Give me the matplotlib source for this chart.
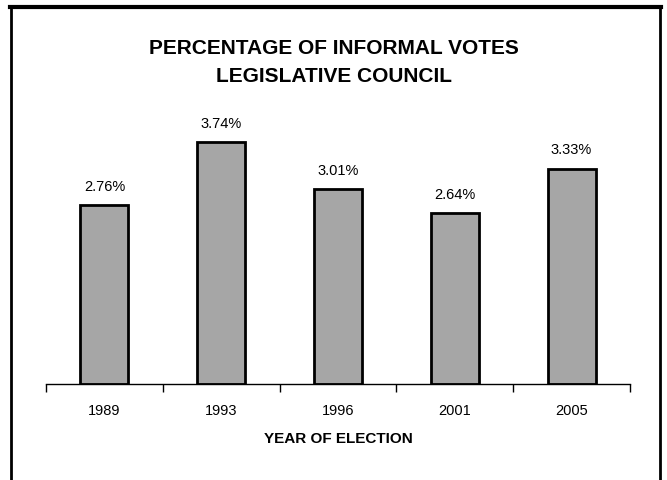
import matplotlib.pyplot as plt
from matplotlib.lines import Line2D

years = ["1989", "1993", "1996", "2001", "2005"]
informal_pct = [2.76, 3.74, 3.01, 2.64, 3.33]
title_lines = ["PERCENTAGE OF INFORMAL VOTES", "LEGISLATIVE COUNCIL"]

plt.rcParams["font.family"] = ["Liberation Sans", "DejaVu Sans"]

fig = plt.figure(figsize=(6.67, 4.81), dpi=100)
ax = fig.add_axes([0.069, 0.1996, 0.8755, 0.538])

xs = list(range(len(years)))
ax.bar(xs, informal_pct, width=0.41, color="#a6a6a6", edgecolor="black", linewidth=2)

for x, v in zip(xs, informal_pct):
    ax.annotate(f"{v:.2f}%", (x, v), xytext=(0, 9), textcoords="offset points",
                ha="center", va="bottom", fontsize=10.5, clip_on=False)

ax.set_xlim(-0.5, len(years) - 0.5)
ax.set_ylim(0, 4)

# ticks sit between categories, labels in the middle
ax.set_xticks([i - 0.5 for i in range(len(years) + 1)])
ax.set_xticklabels([])
ax.set_xticks(xs, minor=True)
ax.set_xticklabels(years, minor=True, fontsize=10.5)
ax.tick_params(axis="x", which="major", length=6, width=1, direction="out")
ax.tick_params(axis="x", which="minor", length=0, pad=14)
ax.set_yticks([])

for side in ["top", "right", "left"]:
    ax.spines[side].set_visible(False)
ax.spines["bottom"].set_linewidth(1)

ax.set_xlabel("YEAR OF ELECTION", fontsize=11, fontweight="bold", labelpad=10)

fig.text(0.5, 0.900, title_lines[0], ha="center", va="center",
         fontsize=15, fontweight="bold")
fig.text(0.5, 0.840, title_lines[1], ha="center", va="center",
         fontsize=15, fontweight="bold")

# outer frame, open at the bottom
fig.add_artist(Line2D([0.0157, 0.9905], [1 - 7.5 / 481] * 2, color="black", lw=3,
                      transform=fig.transFigure))
fig.add_artist(Line2D([0.0165, 0.0165], [0, 1 - 7.5 / 481], color="black", lw=2,
                      transform=fig.transFigure))
fig.add_artist(Line2D([0.9895, 0.9895], [0, 1 - 7.5 / 481], color="black", lw=2,
                      transform=fig.transFigure))

fig.savefig("out.png", dpi=100)
